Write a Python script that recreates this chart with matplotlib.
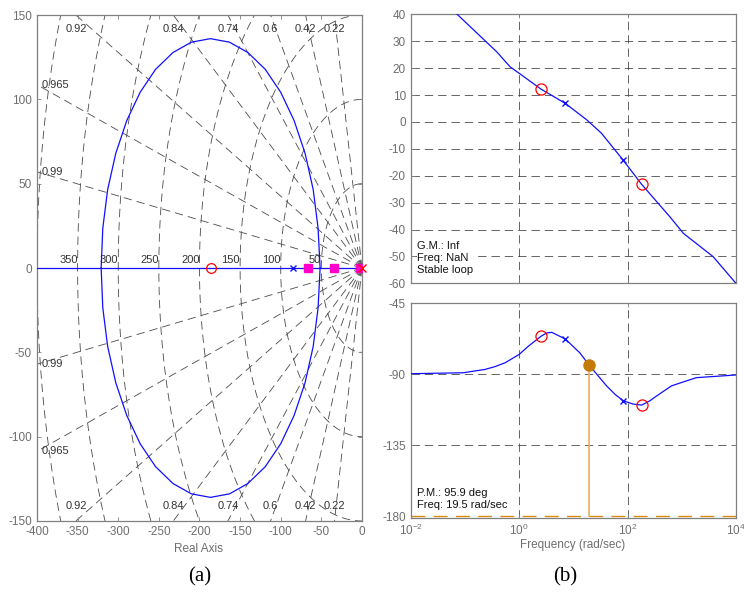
import numpy as np
import matplotlib
matplotlib.use('Agg')
from matplotlib import pyplot as plt

plt.rcParams['font.family'] = ['Liberation Sans', 'DejaVu Sans']
plt.rcParams['axes.unicode_minus'] = False

# (a) root locus, upper half (mirrored for lower half)
locus_x = [-51.5, -54, -60, -70, -83.5, -100, -119, -140.5, -163, -186.5,
           -210, -232.5, -254, -273, -289.5, -303, -313, -319, -321]
locus_y = [0, 23.6, 46.5, 68, 87.4, 104.2, 117.8, 127.8, 133.9, 136,
           133.9, 127.8, 117.8, 104.2, 87.4, 68, 46.5, 23.6, 0]
zeta_values = [0.22, 0.42, 0.6, 0.74, 0.84, 0.92, 0.965, 0.99]
zeta_labels = ['0.22', '0.42', '0.6', '0.74', '0.84', '0.92', '0.965', '0.99']
wn_values = [50, 100, 150, 200, 250, 300, 350, 400]
wn_labels = [50, 100, 150, 200, 250, 300, 350]
plant_poles = [-85]
comp_zeros = [-186]
comp_poles = [0]
cl_poles = [-66, -35, -2]

# (b) bode, open loop
mag_w = [0.072, 0.385, 0.68, 1.0, 2.53, 7.1, 17.6, 33, 83, 182, 600, 1070, 3800, 10000]
mag_db = [40, 26.1, 20.5, 18.1, 12.2, 6.9, 0.8, -4.2, -14.2, -23.2, -35.2, -41.4, -50.1, -60]
ph_w = [0.01, 0.093, 0.234, 0.359, 0.55, 1.0, 1.48, 2.53, 3.22, 4.0, 7.1, 13.2, 19.5, 41,
        58.5, 83, 126, 182, 257, 347, 646, 1070, 1860, 10000]
ph_deg = [-89.6, -89.0, -86.9, -85.1, -82.7, -77.4, -72.2, -65.9, -63.8, -63.4, -67.6, -76.4,
          -84.1, -97.3, -102.6, -106.7, -108.8, -109.5, -106.8, -103.6, -97.3, -94.8, -92.1,
          -90.4]
zero_w = [2.53, 182]
zero_db = [12.2, -23.2]
zero_deg = [-65.9, -109.5]
pole_w = [7.1, 83]
pole_db = [6.9, -14.2]
pole_deg = [-67.6, -106.7]
pm_freq = 19.5
pm_phase = -84.1

tick_col = '#6e6e6e'
grid_col = '#4a4a4a'

fig = plt.figure(figsize=(7.44, 5.94), dpi=100)


def style(ax):
    for s in ax.spines.values():
        s.set_color('#808080')
        s.set_linewidth(0.9)
    ax.tick_params(direction='in', length=3, width=0.6, colors='#808080',
                   labelcolor=tick_col, labelsize=8.5, top=True, right=True)


# ---- (a) ----
ax = fig.add_axes([0.0497, 0.1229, 0.4368, 0.8518])
style(ax)
ax.set_xlim(-400, 0)
ax.set_ylim(-150, 150)
ax.set_xticks(np.arange(-400, 1, 50))
ax.set_yticks(np.arange(-150, 151, 50))

dash = (0, (10, 6))
t = np.linspace(np.pi / 2, 3 * np.pi / 2, 200)
for r in wn_values:
    ax.plot(r * np.cos(t), r * np.sin(t), color=grid_col, lw=0.6, ls=dash, zorder=1)
for z in zeta_values:
    s = np.sqrt(1 - z * z)
    for sgn in (1, -1):
        ax.plot([0, -600 * z], [0, sgn * 600 * s], color=grid_col, lw=0.6, ls=dash, zorder=1)

# damping labels
for z, lab in zip(zeta_values, zeta_labels):
    s = np.sqrt(1 - z * z)
    xe = -150 * z / s
    if xe > -390:
        ax.text(xe, 142, lab, ha='center', va='center', fontsize=8, color='#333333')
        ax.text(xe, -141, lab, ha='center', va='center', fontsize=8, color='#333333')
    else:
        ye = 400 * s / z
        ax.text(-394, ye, lab, ha='left', va='center', fontsize=8, color='#333333')
        ax.text(-394, -ye, lab, ha='left', va='center', fontsize=8, color='#333333')
for w in wn_labels:
    ax.text(-w, 2, str(w), ha='right', va='bottom', fontsize=8, color='#333333')

ax.plot([-400, 0], [0, 0], color='#1010ff', lw=0.9, zorder=3)
ax.plot(locus_x, locus_y, color='#1010ff', lw=0.9, zorder=3)
ax.plot(locus_x, [-v for v in locus_y], color='#1010ff', lw=0.9, zorder=3)
ax.plot(plant_poles, [0] * len(plant_poles), 'x', color='#1010ff', ms=4, mew=1, zorder=4)
ax.plot(comp_zeros, [0] * len(comp_zeros), 'o', mfc='none', mec='red', ms=7, mew=0.9, zorder=4)
ax.plot(cl_poles, [0] * len(cl_poles), 's', color='#ff00cc', ms=6, zorder=5)
ax.plot(comp_poles, [0] * len(comp_poles), 'x', color='red', ms=6, mew=1, zorder=5, clip_on=False)
fig.text(0.267, 0.076, 'Real Axis', ha='center', va='center', fontsize=8.5, color=tick_col)

# ---- (b) magnitude ----
ax1 = fig.add_axes([0.552, 0.523, 0.4372, 0.4529])
style(ax1)
ax1.set_xscale('log')
ax1.set_xlim(1e-2, 1e4)
ax1.set_ylim(-60, 40)
ax1.set_yticks(np.arange(-60, 41, 10))
ax1.set_xticks([1e-2, 1, 1e2, 1e4])
ax1.minorticks_off()
ax1.tick_params(labelbottom=False)
for y in range(-50, 41, 10):
    ax1.axhline(y, color=grid_col, lw=0.6, ls=(0, (10, 6)), zorder=1)
for x in (1, 100):
    ax1.axvline(x, color=grid_col, lw=0.6, ls=(0, (10, 6)), zorder=1)
ax1.plot(mag_w, mag_db, color='#1010ff', lw=0.9, zorder=3)
ax1.plot(zero_w, zero_db, 'o', mfc='none', mec='red', ms=8, mew=0.9, zorder=4)
ax1.plot(pole_w, pole_db, 'x', color='#1010ff', ms=4, mew=1, zorder=4)
ax1.text(0.02, 0.03, 'G.M.: Inf\nFreq: NaN\nStable loop', transform=ax1.transAxes,
         ha='left', va='bottom', fontsize=8, linespacing=1.25, color='#111111',
         bbox=dict(fc='white', ec='none', pad=0.5))

# ---- (b) phase ----
ax2 = fig.add_axes([0.552, 0.1274, 0.4372, 0.362])
style(ax2)
ax2.set_xscale('log')
ax2.set_xlim(1e-2, 1e4)
ax2.set_ylim(-181.2, -45)
ax2.set_yticks([-180, -135, -90, -45])
ax2.set_xticks([1e-2, 1, 1e2, 1e4])
ax2.minorticks_off()
for y in (-135, -90, -45):
    ax2.axhline(y, color=grid_col, lw=0.6, ls=(0, (10, 6)), zorder=1)
for x in (1, 100):
    ax2.axvline(x, color=grid_col, lw=0.6, ls=(0, (10, 6)), zorder=1)
ax2.axhline(-180, color='#d88c10', lw=1.0, ls=(0, (10, 6)), zorder=2)
ax2.plot([pm_freq, pm_freq], [-180, pm_phase], color='#e8b060', lw=1.2, zorder=2)
ax2.plot(ph_w, ph_deg, color='#1010ff', lw=0.9, zorder=3)
ax2.plot(zero_w, zero_deg, 'o', mfc='none', mec='red', ms=8, mew=0.9, zorder=4)
ax2.plot(pole_w, pole_deg, 'x', color='#1010ff', ms=4, mew=1, zorder=4)
ax2.plot([pm_freq], [pm_phase], 'o', color='#c47a08', ms=8, zorder=5)
ax2.text(0.02, 0.04, 'P.M.: 95.9 deg\nFreq: 19.5 rad/sec', transform=ax2.transAxes,
         ha='left', va='bottom', fontsize=8, linespacing=1.25, color='#111111',
         bbox=dict(fc='white', ec='none', pad=0.5))
fig.text(0.769, 0.083, 'Frequency (rad/sec)', ha='center', va='center', fontsize=8.5, color=tick_col)

fig.text(0.269, 0.029, '(a)', ha='center', va='center', fontsize=15, family='Liberation Serif')
fig.text(0.759, 0.029, '(b)', ha='center', va='center', fontsize=15, family='Liberation Serif')

fig.savefig('out.png', dpi=100, facecolor='white')
